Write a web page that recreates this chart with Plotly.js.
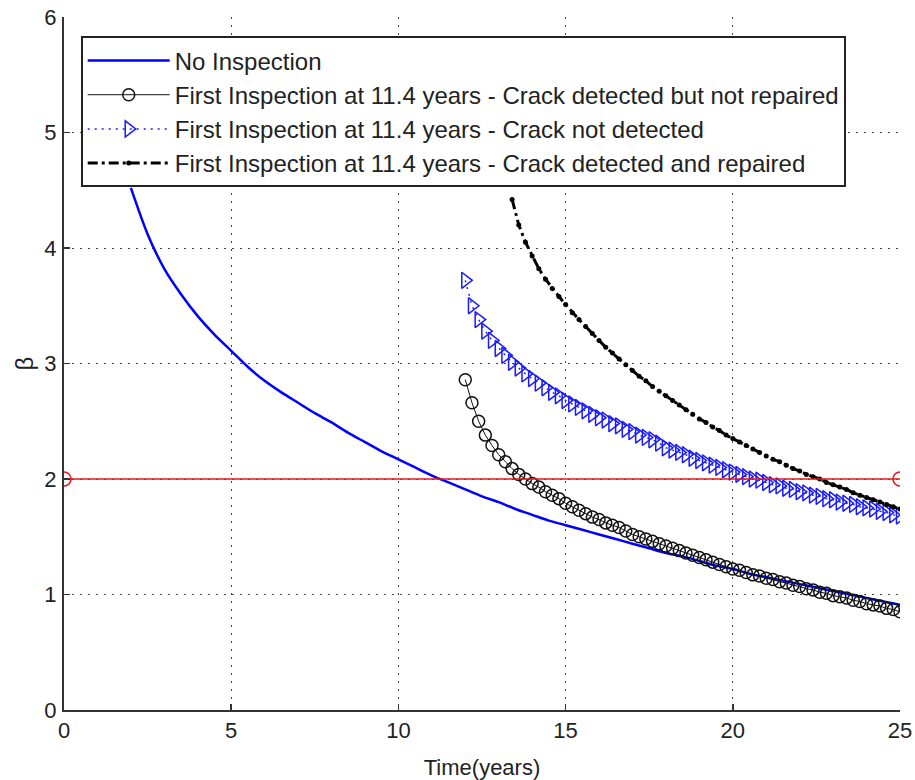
<!DOCTYPE html>
<html>
<head>
<meta charset="utf-8">
<script src="https://cdn.plot.ly/plotly-3.0.1.min.js"></script>
<style>html,body{margin:0;padding:0;background:#fff;}#chart{width:915px;height:780px;}</style>
</head>
<body>
<div id="chart"></div>
<script>
// ---- Data ----
var seriesNames = [
  "No Inspection",
  "First Inspection at 11.4 years - Crack detected but not repaired",
  "First Inspection at 11.4 years - Crack not detected",
  "First Inspection at 11.4 years - Crack detected and repaired"
];

var noInspX = [2.0,2.5,3.0,3.5,4.0,4.5,5.0,5.5,6.0,6.5,7.0,7.5,8.0,8.5,9.0,9.5,10.0,10.5,11.0,11.5,12.0,12.5,13.0,13.5,14.0,14.5,15.0,15.5,16.0,16.5,17.0,17.5,18.0,18.5,19.0,19.5,20.0,20.5,21.0,21.5,22.0,22.5,23.0,23.5,24.0,24.5,25.0];
var noInspY = [4.52,4.12,3.82,3.60,3.41,3.25,3.11,2.97,2.85,2.75,2.66,2.57,2.49,2.40,2.32,2.24,2.17,2.10,2.03,1.97,1.91,1.85,1.80,1.74,1.69,1.64,1.60,1.56,1.52,1.48,1.44,1.40,1.36,1.33,1.29,1.25,1.22,1.18,1.15,1.12,1.09,1.06,1.03,1.00,0.97,0.94,0.91];

var inspX = [12.0,12.2,12.4,12.6,12.8,13.0,13.2,13.4,13.6,13.8,14.0,14.2,14.4,14.6,14.8,15.0,15.2,15.4,15.6,15.8,16.0,16.2,16.4,16.6,16.8,17.0,17.2,17.4,17.6,17.8,18.0,18.2,18.4,18.6,18.8,19.0,19.2,19.4,19.6,19.8,20.0,20.2,20.4,20.6,20.8,21.0,21.2,21.4,21.6,21.8,22.0,22.2,22.4,22.6,22.8,23.0,23.2,23.4,23.6,23.8,24.0,24.2,24.4,24.6,24.8,25.0];

var notRepairedY = [2.86,2.66,2.50,2.38,2.29,2.21,2.15,2.09,2.04,2.00,1.96,1.93,1.89,1.86,1.83,1.79,1.76,1.73,1.70,1.67,1.65,1.62,1.60,1.58,1.55,1.52,1.50,1.48,1.46,1.44,1.42,1.40,1.38,1.36,1.34,1.32,1.30,1.28,1.26,1.24,1.22,1.21,1.19,1.17,1.16,1.14,1.13,1.11,1.10,1.08,1.07,1.05,1.04,1.02,1.01,0.99,0.98,0.97,0.95,0.94,0.92,0.91,0.90,0.88,0.87,0.85];

var notDetectedY = [3.72,3.50,3.38,3.28,3.20,3.13,3.07,3.01,2.96,2.91,2.87,2.83,2.79,2.75,2.72,2.68,2.65,2.62,2.59,2.56,2.53,2.51,2.48,2.46,2.43,2.41,2.38,2.36,2.34,2.31,2.27,2.25,2.23,2.21,2.18,2.16,2.14,2.12,2.10,2.08,2.06,2.04,2.02,2.00,1.99,1.97,1.95,1.94,1.92,1.91,1.89,1.88,1.86,1.85,1.83,1.82,1.80,1.79,1.78,1.76,1.75,1.74,1.72,1.71,1.69,1.68];

var repairedX = [13.4,13.6,13.8,14.0,14.2,14.4,14.6,14.8,15.0,15.2,15.4,15.6,15.8,16.0,16.2,16.4,16.6,16.8,17.0,17.2,17.4,17.6,17.8,18.0,18.2,18.4,18.6,18.8,19.0,19.2,19.4,19.6,19.8,20.0,20.2,20.4,20.6,20.8,21.0,21.2,21.4,21.6,21.8,22.0,22.2,22.4,22.6,22.8,23.0,23.2,23.4,23.6,23.8,24.0,24.2,24.4,24.6,24.8,25.0];
var repairedY = [4.42,4.20,4.05,3.93,3.82,3.73,3.65,3.58,3.51,3.44,3.38,3.32,3.26,3.20,3.14,3.09,3.04,2.99,2.94,2.89,2.85,2.80,2.76,2.72,2.68,2.64,2.60,2.56,2.52,2.49,2.45,2.42,2.38,2.35,2.32,2.29,2.26,2.23,2.20,2.17,2.15,2.12,2.09,2.07,2.04,2.02,2.00,1.97,1.95,1.93,1.91,1.88,1.86,1.84,1.82,1.80,1.78,1.76,1.74];

var thresholdX = [0, 25];
var thresholdY = [2, 2];

var xTicks = [0, 5, 10, 15, 20, 25];
var yTicks = [0, 1, 2, 3, 4, 5, 6];
var xTitle = "Time(years)";
var yTitle = "β";

// ---- Traces ----
var traces = [
  {x: noInspX, y: noInspY, name: seriesNames[0], type: "scatter", mode: "lines",
   line: {color: "#0000ff", width: 2.5, shape: "spline", smoothing: 0.8}},
  {x: inspX, y: notRepairedY, name: seriesNames[1], type: "scatter", mode: "lines+markers",
   line: {color: "#111111", width: 1},
   marker: {symbol: "circle-open", size: 12, color: "#111111", line: {width: 1.5}}},
  {x: inspX, y: notDetectedY, name: seriesNames[2], type: "scatter", mode: "lines+markers",
   line: {color: "#2222ff", width: 1.5, dash: "2px,5px"},
   marker: {symbol: "triangle-right-open", size: 14, color: "#1a1aff", line: {width: 1.5}}},
  {x: repairedX, y: repairedY, name: seriesNames[3], type: "scatter", mode: "lines+markers",
   line: {color: "#000000", width: 3, dash: "10px,4px,3px,4px"},
   marker: {symbol: "circle", size: 5, color: "#000000"}},
  {x: thresholdX, y: thresholdY, name: "threshold", type: "scatter", mode: "lines+markers",
   showlegend: false,
   line: {color: "#e8161b", width: 1.5},
   marker: {symbol: "circle-open", size: 14, color: "#e8161b", line: {width: 1.5}}}
];

var fontFam = "Liberation Sans, Arial, Helvetica, sans-serif";
var axisCommon = {
  showline: true, linecolor: "#333333", linewidth: 2,
  ticks: "inside", ticklen: 6, tickwidth: 1.5, tickcolor: "#333333",
  showgrid: true, gridcolor: "#444444", gridwidth: 1, griddash: "2px,6px",
  zeroline: false, mirror: false,
  tickfont: {family: fontFam, size: 22, color: "#222222"}
};

var layout = {
  width: 915, height: 780,
  margin: {l: 64, r: 15, t: 17, b: 70},
  paper_bgcolor: "#ffffff", plot_bgcolor: "#ffffff",
  font: {family: fontFam, color: "#222222"},
  showlegend: true,
  xaxis: Object.assign({}, axisCommon, {
    range: [0, 25], tickmode: "array", tickvals: xTicks, ticktext: xTicks.map(String),
    ticklabelstandoff: 0,
    title: {text: xTitle, font: {family: fontFam, size: 22, color: "#222222"}}
  }),
  yaxis: Object.assign({}, axisCommon, {
    range: [0, 6], tickmode: "array", tickvals: yTicks, ticktext: yTicks.map(String),
    ticklabelstandoff: 1,
    automargin: "left",
    title: {text: yTitle, standoff: 4, font: {family: fontFam, size: 24, color: "#222222"}}
  }),
  legend: {
    x: 0.02, y: 0.972, xanchor: "left", yanchor: "top",
    bgcolor: "#ffffff", bordercolor: "#222222", borderwidth: 2,
    itemwidth: 82,
    font: {family: fontFam, size: 24, color: "#222222"},
    tracegroupgap: 0
  }
};

Plotly.newPlot("chart", traces, layout, {displayModeBar: false, staticPlot: true});
</script>
</body>
</html>
